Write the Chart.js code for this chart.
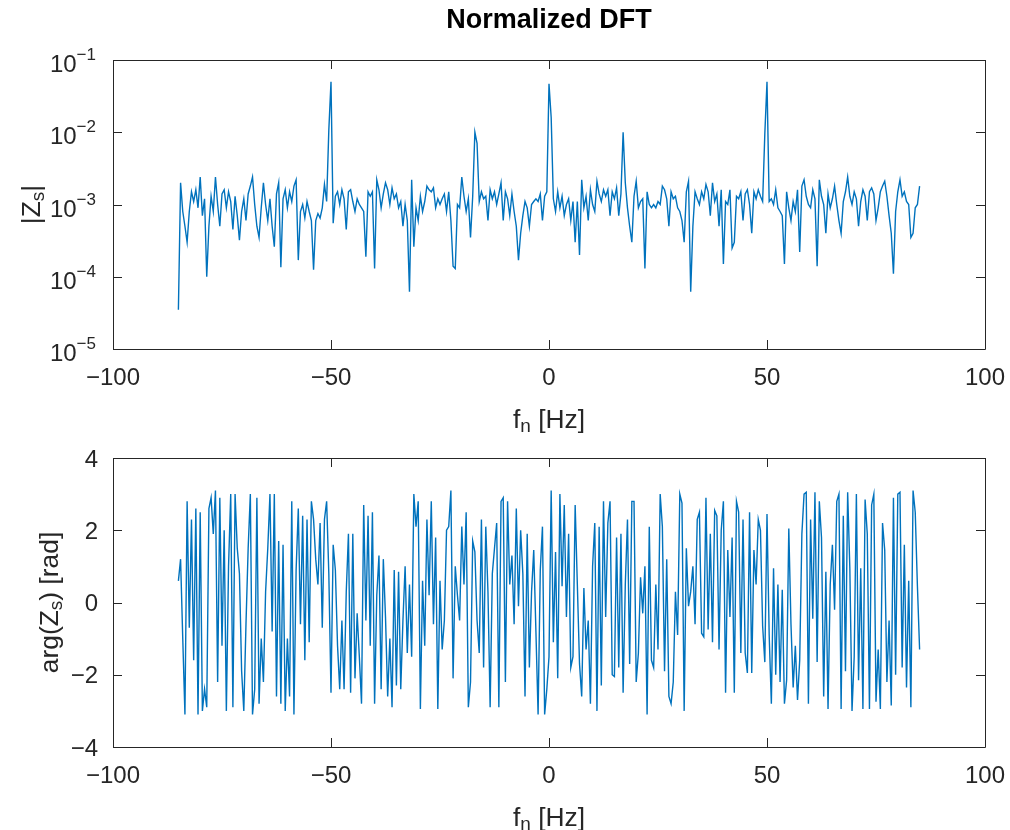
<!DOCTYPE html>
<html>
<head>
<meta charset="utf-8">
<title>Normalized DFT</title>
<script src="https://cdn.jsdelivr.net/npm/chart.js@4.4.1/dist/chart.umd.min.js"></script>
<style>
  html, body { margin: 0; padding: 0; background: #fff; }
  #wrap { position: relative; width: 1010px; height: 830px; }
  canvas { position: absolute; left: 0; }
  #magChart { top: 0; }
  #phaseChart { top: 400px; }
</style>
</head>
<body>
<div id="wrap">
  <canvas id="magChart" width="1010" height="450"></canvas>
  <canvas id="phaseChart" width="1010" height="430"></canvas>
</div>
<script>
document.addEventListener("DOMContentLoaded", () => {

  // frequency bins of the two-sided spectrum [Hz]
  const freqStart = -85;
  const freqStep = 0.5;

  // |Zs|, one value per bin from -85 Hz to 85 Hz
  const magnitude = [
    3.5e-5, 2e-3, 8e-4, 5e-4, 3e-4, 8e-4, 1.5e-3, 1.1e-3, 1.6e-3, 9e-4,
    2.4e-3, 7e-4, 1.2e-3, 1e-4, 5e-4, 1.3e-3, 8e-4, 2.4e-3, 1e-3, 5e-4,
    1.4e-3, 1.6e-3, 9e-4, 1.5e-3, 1.1e-3, 4.5e-4, 1.3e-3, 7e-4, 3.2e-4, 8e-4,
    1.2e-3, 6e-4, 1.4e-3, 1.8e-3, 2.4e-3, 1e-3, 5e-4, 3.5e-4, 9e-4, 2e-3,
    1e-3, 6e-4, 1.2e-3, 5e-4, 2.6e-4, 1.4e-3, 2e-3, 1.35e-4, 1.2e-3, 1.6e-3,
    9e-4, 1.5e-3, 1.1e-3, 1.8e-3, 2.2e-3, 1.7e-4, 8e-4, 1e-3, 6.5e-4, 1.1e-3,
    8e-4, 6e-4, 1.25e-4, 6e-4, 7.5e-4, 6.5e-4, 9e-4, 1.9e-3, 1.1e-3, 1.07e-2,
    5e-2, 5.5e-4, 1.3e-3, 1.5e-3, 1e-3, 1.6e-3, 1.2e-3, 4.5e-4, 1.5e-3, 1.6e-3,
    1.1e-3, 8e-4, 1.2e-3, 1e-3, 9e-4, 8e-4, 1.9e-4, 1.5e-3, 1.3e-3, 1.5e-3,
    1.3e-4, 2.2e-3, 1.6e-3, 9e-4, 1.4e-3, 2e-3, 1.6e-3, 1e-3, 1.7e-3, 1.2e-3,
    1.4e-3, 9e-4, 1.1e-3, 5e-4, 1e-3, 6e-4, 6.2e-5, 2.2e-3, 2.6e-4, 9e-4,
    6e-4, 1.3e-3, 8e-4, 1.1e-3, 1.8e-3, 1.6e-3, 1.5e-3, 1.7e-3, 9e-4, 1.2e-3,
    1e-3, 1.2e-3, 1.4e-3, 8e-4, 1.5e-3, 6e-4, 1.4e-4, 1.3e-4, 1e-3, 9e-4,
    2.4e-3, 1.3e-3, 8e-4, 1.2e-3, 3.5e-4, 1.3e-3, 1e-2, 7e-3, 1.1e-3, 1.5e-3,
    1.2e-3, 1.3e-3, 6e-4, 1.6e-3, 1.2e-3, 1.5e-3, 1e-3, 1.4e-3, 2e-3, 6e-4,
    1.5e-3, 1.2e-3, 7e-4, 1.4e-3, 8e-4, 5e-4, 1.7e-4, 4e-4, 7e-4, 1.1e-3,
    9e-4, 5e-4, 1e-3, 1.1e-3, 1.2e-3, 1.1e-3, 1.4e-3, 6e-4, 1.3e-3, 1.5e-3,
    4.7e-2, 1.6e-2, 1.2e-3, 8e-4, 1.5e-3, 9e-4, 1.3e-3, 7e-4, 1e-3, 1.2e-3,
    6e-4, 1.1e-3, 3e-4, 1.1e-3, 2e-4, 2.2e-3, 9e-4, 1.3e-3, 6e-4, 1.6e-3,
    1e-3, 8e-4, 2.1e-3, 1.4e-3, 1.1e-3, 1.6e-3, 1.3e-3, 1.6e-3, 7e-4, 1.5e-3,
    1.2e-3, 1.7e-3, 7e-4, 1.4e-3, 1e-2, 2e-3, 9e-4, 5e-4, 3e-4, 1.3e-3,
    2.1e-3, 9e-4, 1.1e-3, 1.2e-3, 1.3e-4, 1.5e-3, 1e-3, 9e-4, 1e-3, 9e-4,
    1.1e-3, 1e-3, 1.8e-3, 1.6e-3, 1.2e-3, 5e-4, 1.5e-3, 1.2e-3, 1.3e-3, 9e-4,
    8e-4, 6e-4, 3e-4, 1.5e-3, 2.1e-3, 6.2e-5, 5e-4, 1.5e-3, 1.2e-3, 1e-3,
    1.5e-3, 1.2e-3, 1.9e-3, 1.5e-3, 7e-4, 2e-3, 1.1e-3, 1.4e-3, 5e-4, 1.6e-3,
    1.5e-4, 1.1e-3, 1e-3, 1.6e-3, 2.5e-4, 3e-4, 1.3e-3, 1.2e-3, 1.5e-3, 6e-4,
    1.4e-3, 1.6e-3, 1e-3, 4e-4, 1.5e-3, 1.2e-3, 1.6e-3, 1.3e-3, 1.1e-3, 9.5e-3,
    5e-2, 1.1e-3, 1.2e-3, 1e-3, 1.6e-3, 9e-4, 8e-4, 7e-4, 1.5e-4, 1.5e-3,
    9e-4, 6e-4, 1.1e-3, 8e-4, 1.6e-3, 2.2e-4, 1.8e-3, 2.2e-3, 1.3e-3, 1e-3,
    9e-4, 1.6e-3, 1.2e-3, 1.4e-4, 2.2e-3, 1.3e-3, 1e-3, 4e-4, 1.4e-3, 9e-4,
    1.2e-3, 1.8e-3, 1e-3, 6e-4, 4e-4, 1.1e-3, 1.5e-3, 2.4e-3, 1.3e-3, 1e-3,
    1.5e-3, 1.2e-3, 5e-4, 1.1e-3, 1.6e-3, 1.3e-3, 6e-4, 1.5e-3, 1.7e-3, 1.4e-3,
    6e-4, 9e-4, 1.5e-3, 1.8e-3, 2.1e-3, 1.3e-3, 7e-4, 4e-4, 1.1e-4, 8e-4,
    1.5e-3, 2.2e-3, 1.3e-3, 1.5e-3, 1.1e-3, 1e-3, 3.5e-4, 4e-4, 9e-4, 1e-3,
    1.8e-3
  ];

  // arg(Zs) [rad], same bins
  const phase = [
    0.6, 1.2, -1.0, -3.1, 2.8, -0.7, 2.3, -1.6, 2.6, -3.1,
    2.5, -3.0, -2.4, -2.9, 2.6, 2.9, 1.9, 3.1, -2.2, 2.9,
    -1.2, 2.0, -3.0, 1.0, 3.0, -2.9, 3.0, 1.5, 0.8, -1.9,
    -3.0, -0.6, 1.5, 3.0, -3.1, -2.4, 2.9, -2.8, -1.0, -2.2,
    0.3, 1.5, 3.0, -0.8, 3.0, -2.6, 1.7, -2.8, 1.6, -3.0,
    -1.0, -2.6, 2.8, -3.1, 0.9, 2.6, -0.6, 2.4, -1.6, 2.3,
    -1.1, 2.8, 2.3, 1.2, 0.5, 2.2, -0.7, 2.3, 2.8, 0.8,
    -2.5, 1.6, 0.9, -1.2, -2.4, -0.5, -2.4, 0.3, 1.9, -2.5,
    1.9, -2.1, -0.3, -1.5, -2.8, 2.7, -0.5, 2.4, -1.2, 2.5,
    -2.8, 0.2, 1.3, -2.4, 1.2, -0.4, -2.6, -1.0, -2.9, 0.9,
    -2.3, 0.85, -2.4, -0.5, 1.0, -1.4, 0.5, -1.5, 3.0, 2.1,
    2.8, -2.95, 0.6, -1.2, 2.3, 0.2, 2.8, -0.6, 1.8, -2.95,
    0.6, -1.3, -0.5, 2.0, 2.1, 3.1, -2.1, 1.0, 0.2, -0.5,
    2.1, 0.5, 2.5, -2.9, -2.2, 1.7, 1.4, -0.5, -1.4, 2.3,
    -1.8, 2.1, 0.3, -2.9, 0.8, 1.5, 2.2, -2.9, 2.8, 2.9,
    -2.2, 2.8, 0.5, 1.3, -0.6, 2.6, -0.1, 2.0, 0.8, -2.6,
    1.9, -1.8, 0.3, 1.45, -0.8, -3.1, 0.9, 2.1, -3.1, -2.4,
    -1.5, 3.1, -1.1, 1.4, -2.1, 3.0, 0.45, 2.7, -0.4, 1.9,
    -1.8, -1.5, 2.7, 0.5, -1.7, -2.6, 0.4, -1.3, -0.5, -2.8,
    1.0, 2.2, -3.0, 2.1, -2.3, 2.8, -0.4, 2.2, 2.8, -2.0,
    -2.05, 1.8, -1.8, 1.9, -2.5, 0.5, 2.3, -1.7, 2.8, 2.8,
    -2.2, -1.4, 0.7, -0.3, 1.0, -3.1, 2.1, -1.6, -1.8, 0.5,
    -1.3, 3.0, 2.1, -1.9, 1.2, -2.6, -2.8, -2.2, 0.3, -0.9,
    3.0, 2.75, -3.0, 1.5, -0.1, 0.3, 1.0, -0.6, 2.3, 2.5,
    -0.85, -0.95, 2.9, -0.75, 1.9, -1.1, 2.55, 2.4, -1.3, 2.0,
    2.8, -2.5, 1.45, -0.4, 1.8, -2.5, 2.8, 2.5, -1.4, 2.3,
    -1.4, -1.95, 2.5, -1.95, 1.45, 0.5, 2.3, 2.0, -0.65, -1.65,
    2.45, -0.9, -2.8, 0.95, -2.0, 0.5, -2.2, 0.35, -2.8, -2.15,
    2.05, -0.6, -2.35, -1.2, -2.7, -1.6, 1.9, 3.0, 3.05, -2.8,
    2.3, -0.45, 3.05, -1.65, 2.8, 1.8, -2.6, 0.85, -2.95, 0.5,
    1.6, -0.2, 2.8, 3.0, -2.95, 2.4, -1.9, 3.05, 0.95, -3.0,
    -1.5, 3.0, -2.15, 0.95, -2.95, 2.85, 1.9, -2.95, 2.7, 3.0,
    -2.75, -1.3, -2.95, 2.2, 1.45, -2.2, -0.5, -2.85, 2.9, -2.0,
    3.0, 3.05, -1.8, 1.6, -2.35, 0.6, -2.9, 3.1, 2.5, 0.45,
    -1.3
  ];

  const xTicks = [-100, -50, 0, 50, 100];
  const magTicks = [1e-5, 1e-4, 1e-3, 1e-2, 1e-1];
  const magTickExp = [-5, -4, -3, -2, -1];
  const phaseTicks = [-4, -2, 0, 2, 4];

  const freqs = magnitude.map((_, i) => freqStart + i * freqStep);

  const FONT = '"Liberation Sans", Arial, Helvetica, sans-serif';
  const AXIS_COLOR = '#262626';
  const LINE_COLOR = '#0072BD';
  const TICK_SIZE = 24;
  const LABEL_SIZE = 26.4;
  const SMALL_SIZE = 19;
  const TICK_LEN = 9;

  const signed = v => (v < 0 ? '\u2212' + Math.abs(v) : String(v));

  // draws a run of text pieces (for sub/superscripts) on one baseline
  function drawRich(ctx, parts, x, y, align) {
    let total = 0;
    parts.forEach(p => {
      ctx.font = (p.bold ? 'bold ' : '') + p.size + 'px ' + FONT;
      p.w = ctx.measureText(p.t).width;
      total += p.w;
    });
    let cx = align === 'center' ? x - total / 2 : align === 'right' ? x - total : x;
    ctx.textAlign = 'left';
    ctx.textBaseline = 'alphabetic';
    parts.forEach(p => {
      ctx.font = (p.bold ? 'bold ' : '') + p.size + 'px ' + FONT;
      ctx.fillText(p.t, cx, y + (p.dy || 0));
      cx += p.w;
    });
  }

  // matlab style box, inward ticks, labels
  function axesDecor(cfg) {
    return {
      id: 'axesDecor',
      afterDraw(chart) {
        const { ctx, chartArea: a } = chart;
        const xs = chart.scales.x, ys = chart.scales.y;
        ctx.save();
        ctx.strokeStyle = AXIS_COLOR;
        ctx.fillStyle = AXIS_COLOR;
        ctx.lineWidth = 1;
        ctx.beginPath();
        ctx.rect(a.left + 0.5, a.top + 0.5, a.right - a.left, a.bottom - a.top);
        xTicks.forEach(v => {
          const px = Math.round(xs.getPixelForValue(v)) + 0.5;
          ctx.moveTo(px, a.bottom); ctx.lineTo(px, a.bottom - TICK_LEN);
          ctx.moveTo(px, a.top); ctx.lineTo(px, a.top + TICK_LEN);
        });
        cfg.yTicks.forEach(v => {
          const py = Math.round(ys.getPixelForValue(v)) + 0.5;
          ctx.moveTo(a.left, py); ctx.lineTo(a.left + TICK_LEN, py);
          ctx.moveTo(a.right, py); ctx.lineTo(a.right - TICK_LEN, py);
        });
        ctx.stroke();

        xTicks.forEach(v => {
          drawRich(ctx, [{ t: signed(v), size: TICK_SIZE }], xs.getPixelForValue(v), a.bottom + 36, 'center');
        });
        cfg.yTicks.forEach((v, i) => {
          const py = ys.getPixelForValue(v);
          if (cfg.exps) {
            drawRich(ctx, [
              { t: '10', size: TICK_SIZE },
              { t: signed(cfg.exps[i]), size: SMALL_SIZE - 2, dy: -12 }
            ], a.left - 17, py + 12, 'right');
          } else {
            drawRich(ctx, [{ t: signed(v), size: TICK_SIZE }], a.left - 15, py + 8.5, 'right');
          }
        });

        drawRich(ctx, [
          { t: 'f', size: LABEL_SIZE },
          { t: 'n', size: SMALL_SIZE, dy: 4 },
          { t: ' [Hz]', size: LABEL_SIZE }
        ], (a.left + a.right) / 2, a.bottom + 79, 'center');

        ctx.save();
        ctx.translate(cfg.yLabelX, (a.top + a.bottom) / 2);
        ctx.rotate(-Math.PI / 2);
        drawRich(ctx, cfg.yLabel, 0, 0, 'center');
        ctx.restore();

        if (cfg.title) {
          ctx.fillStyle = '#000';
          drawRich(ctx, [{ t: cfg.title, size: 27, bold: true }], (a.left + a.right) / 2, 28, 'center');
        }
        ctx.restore();
      }
    };
  }

  function baseOptions(yScale, padding) {
    return {
      responsive: false,
      animation: false,
      events: [],
      layout: { padding: padding },
      plugins: {
        legend: { display: false },
        tooltip: { enabled: false },
        title: { display: false }
      },
      scales: {
        x: { type: 'linear', min: -100, max: 100, display: false },
        y: yScale
      }
    };
  }

  const lineStyle = {
    borderColor: LINE_COLOR,
    borderWidth: 1.4,
    pointRadius: 0,
    fill: false,
    tension: 0
  };

  new Chart(document.getElementById('magChart').getContext('2d'), {
    type: 'line',
    data: {
      datasets: [Object.assign({
        label: '|Zs|',
        data: freqs.map((f, i) => ({ x: f, y: magnitude[i] }))
      }, lineStyle)]
    },
    options: baseOptions(
      { type: 'logarithmic', min: 1e-5, max: 1e-1, display: false },
      { left: 113, right: 25, top: 60, bottom: 101 }
    ),
    plugins: [axesDecor({
      yTicks: magTicks,
      exps: magTickExp,
      title: 'Normalized DFT',
      yLabelX: 40,
      yLabel: [
        { t: '|Z', size: LABEL_SIZE },
        { t: 's', size: SMALL_SIZE, dy: 4 },
        { t: '|', size: LABEL_SIZE }
      ]
    })]
  });

  new Chart(document.getElementById('phaseChart').getContext('2d'), {
    type: 'line',
    data: {
      datasets: [Object.assign({
        label: 'arg(Zs)',
        data: freqs.map((f, i) => ({ x: f, y: phase[i] }))
      }, lineStyle)]
    },
    options: baseOptions(
      { type: 'linear', min: -4, max: 4, display: false },
      { left: 113, right: 25, top: 58, bottom: 83 }
    ),
    plugins: [axesDecor({
      yTicks: phaseTicks,
      yLabelX: 58,
      yLabel: [
        { t: 'arg(Z', size: LABEL_SIZE },
        { t: 's', size: SMALL_SIZE, dy: 4 },
        { t: ') [rad]', size: LABEL_SIZE }
      ]
    })]
  });

});
</script>
</body>
</html>
